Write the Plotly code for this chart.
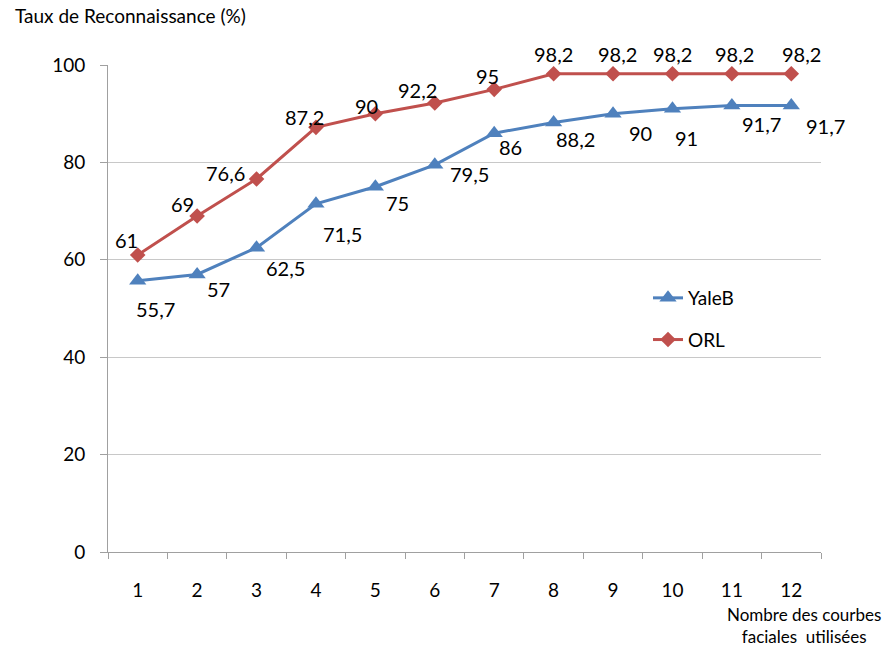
import plotly.graph_objects as go

categories = ["1", "2", "3", "4", "5", "6", "7", "8", "9", "10", "11", "12"]
yaleb = [55.7, 57, 62.5, 71.5, 75, 79.5, 86, 88.2, 90, 91, 91.7, 91.7]
orl = [61, 69, 76.6, 87.2, 90, 92.2, 95, 98.2, 98.2, 98.2, 98.2, 98.2]

# label offsets in pixels (dx right, dy down) relative to each point
yaleb_off = [(18, 28), (21, 15), (29, 20), (27, 30), (22, 16), (35, 9),
             (16, 14), (22, 17), (27, 19), (14, 29), (30, 19), (34, 21)]
orl_off = [(-11, -15), (-15, -12), (-31, -6), (-11, -10), (-9, -8), (-17, -13),
           (-7, -13), (0, -20), (4, -20), (0, -20), (3, -20), (10, -20)]

BLUE = "#4F81BD"
RED = "#C0504D"
FONT = "Lato"

fig = go.Figure()
fig.add_trace(go.Scatter(
    x=categories, y=yaleb, name="YaleB", mode="lines+markers",
    line=dict(color=BLUE, width=3),
    marker=dict(symbol="triangle-up", size=15, color=BLUE),
    legendgroup="a",
))
fig.add_trace(go.Scatter(
    x=categories, y=orl, name="ORL", mode="lines+markers",
    line=dict(color=RED, width=3),
    marker=dict(symbol="diamond", size=12, color=RED),
    legendgroup="b",
))

annotations = []
for vals, offs in ((yaleb, yaleb_off), (orl, orl_off)):
    for i, (v, (dx, dy)) in enumerate(zip(vals, offs)):
        txt = ("%g" % v).replace(".", ",")
        annotations.append(dict(
            x=i, y=v, xref="x", yref="y", text=txt, showarrow=False,
            xshift=dx, yshift=-dy, font=dict(family=FONT, size=20, color="#000"),
        ))

L, R, T, B = 108, 64, 65, 94
pw, ph = 885 - L - R, 646 - T - B

annotations.append(dict(
    text="Taux de Reconnaissance (%)", xref="paper", yref="paper",
    x=(13 - L) / pw, y=(646 - B - 16) / ph, xanchor="left", yanchor="middle",
    showarrow=False, font=dict(family=FONT, size=19, color="#000"),
))
annotations.append(dict(
    text="Nombre des courbes<br>faciales  utilisées", xref="paper", yref="paper",
    x=(804 - L) / pw, y=(646 - B - 625) / ph, xanchor="center", yanchor="middle",
    showarrow=False, align="center", font=dict(family=FONT, size=17, color="#000"),
))

fig.update_layout(
    width=885, height=646,
    margin=dict(l=L, r=R, t=T, b=B),
    paper_bgcolor="white", plot_bgcolor="white",
    font=dict(family=FONT, size=19, color="#000"),
    annotations=annotations,
    legend=dict(
        x=(648 - L) / pw, y=(646 - B - 279) / ph, xanchor="left", yanchor="top",
        font=dict(family=FONT, size=19), tracegroupgap=14,
        bgcolor="rgba(0,0,0,0)", itemwidth=30,
    ),
    xaxis=dict(
        type="category", range=[-0.5, 11.5], tickson="boundaries",
        ticks="outside", ticklen=6,
        tickcolor="#A0A0A0", showline=True, linecolor="#A0A0A0", linewidth=1,
        showgrid=False, zeroline=False, ticklabelstandoff=21,
        tickfont=dict(family=FONT, size=19),
    ),
    yaxis=dict(
        range=[0, 100], dtick=20, ticks="outside", ticklen=7,
        tickcolor="#A0A0A0", showline=True, linecolor="#A0A0A0", linewidth=1,
        showgrid=True, gridcolor="#C8C8C8", gridwidth=1, zeroline=False,
        ticklabelstandoff=11, tickfont=dict(family=FONT, size=19),
    ),
)

fig.write_html("out.html")
